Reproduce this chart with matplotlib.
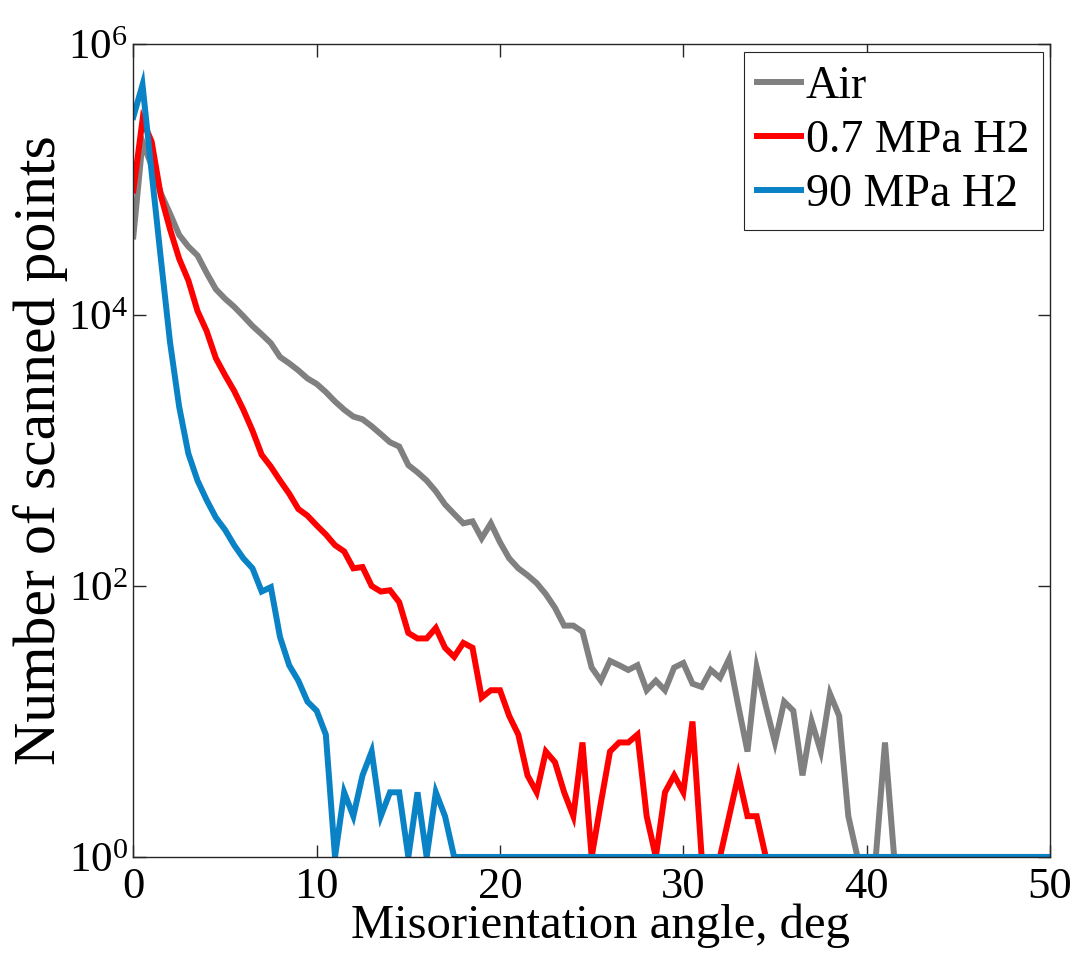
import numpy as np
import matplotlib
matplotlib.use("Agg")
import matplotlib.pyplot as plt
from matplotlib import ticker

plt.rcParams['font.family'] = ['Liberation Serif', 'DejaVu Serif']
plt.rcParams['mathtext.fontset'] = 'custom'
plt.rcParams['mathtext.rm'] = 'Liberation Serif'
plt.rcParams['mathtext.it'] = 'Liberation Serif:italic'

# Misorientation angle (deg), 0.5 deg bins
angle = np.arange(0, 50.01, 0.5)

counts_air = [
    38000, 190000, 126000, 79000, 56000, 39000, 32000, 27500, 20400, 15500,
    13200, 11500, 9800, 8300, 7200, 6200, 4900, 4400, 3900, 3400,
    3100, 2700, 2300, 2000, 1780, 1700, 1510, 1320, 1150, 1070,
    780, 690, 600, 500, 400, 340, 290, 300, 225, 290,
    210, 160, 135, 120, 105, 87, 69, 51, 51, 46,
    25, 20, 28, 26, 24, 26, 17, 20, 17, 25,
    27, 19, 18, 24, 21, 29, 13, 6, 25, 13,
    7, 14, 12, 4, 10, 6, 16, 11, 2, 1,
    1, 1, 7, 1, 1, 1, 1, 1, 1, 1,
    1, 1, 1, 1, 1, 1, 1, 1, 1, 1, 1]

counts_07MPa = [
    83000, 275000, 190000, 76000, 43000, 26000, 18000, 10700, 7600, 4800,
    3600, 2750, 2000, 1400, 930, 760, 600, 480, 370, 330,
    280, 240, 200, 180, 135, 138, 100, 91, 93, 76,
    45, 41, 41, 49, 35, 30, 38, 35, 15, 17,
    17, 11, 8, 4, 3, 6, 5, 3, 2, 7,
    1, 2.5, 6, 7, 7, 8, 2, 1, 3, 4,
    3, 10, 1, 1, 1, 2, 4, 2, 2, 1,
    1, 1, 1, 1, 1, 1, 1, 1, 1, 1,
    1, 1, 1, 1, 1, 1, 1, 1, 1, 1,
    1, 1, 1, 1, 1, 1, 1, 1, 1, 1, 1]

counts_90MPa = [
    290000, 500000, 112000, 26000, 6300, 2100, 950, 600, 430, 320,
    260, 200, 160, 135, 91, 98, 42, 26, 20, 14,
    12, 8, 1, 3, 2, 4, 6, 2, 3, 3,
    1, 3, 1, 3, 2, 1, 1, 1, 1, 1,
    1, 1, 1, 1, 1, 1, 1, 1, 1, 1,
    1, 1, 1, 1, 1, 1, 1, 1, 1, 1,
    1, 1, 1, 1, 1, 1, 1, 1, 1, 1,
    1, 1, 1, 1, 1, 1, 1, 1, 1, 1,
    1, 1, 1, 1, 1, 1, 1, 1, 1, 1,
    1, 1, 1, 1, 1, 1, 1, 1, 1, 1, 1]

series_labels = ['Air', '0.7 MPa H2', '90 MPa H2']
series_colors = ['#808080', '#FF0000', '#0A82C6']

x_ticks = [0, 10, 20, 30, 40, 50]
y_ticks = [1e0, 1e2, 1e4, 1e6]
y_ticklabels = [r'$\mathrm{10^{0}}$', r'$\mathrm{10^{2}}$', r'$\mathrm{10^{4}}$', r'$\mathrm{10^{6}}$']

fig = plt.figure(figsize=(10.78, 9.59), dpi=100)
ax = fig.add_axes([0.1237, 0.1064, 0.8503, 0.8477])

for data, lab, col in zip([counts_air, counts_07MPa, counts_90MPa], series_labels, series_colors):
    ax.plot(angle, data, color=col, lw=4.3, label=lab, solid_joinstyle='miter')

ax.set_yscale('log')
ax.set_xlim(0, 50)
ax.set_ylim(1, 1e6)
ax.set_xticks(x_ticks)
ax.set_yticks(y_ticks)
ax.set_yticklabels(y_ticklabels)
ax.yaxis.set_minor_locator(ticker.NullLocator())
ax.xaxis.set_minor_locator(ticker.NullLocator())

axis_col = '#262626'
for s in ax.spines.values():
    s.set_color(axis_col)
    s.set_linewidth(1.0)
ax.tick_params(axis='both', which='major', direction='in', length=9, width=1.0,
               top=True, right=True, color=axis_col, labelsize=32)
ax.tick_params(axis='x', pad=7)
ax.tick_params(axis='y', pad=4, labelsize=31)

ax.set_xlabel('Misorientation angle, deg', fontsize=35)
ax.xaxis.set_label_coords(0.51, -0.057)
ax.set_ylabel('Number of scanned points', fontsize=43, labelpad=0)

leg = ax.legend(loc='upper right', bbox_to_anchor=(0.992, 0.990), borderaxespad=0,
                fontsize=33, handlelength=0.95, handletextpad=0.1, labelspacing=0.25,
                borderpad=0.3, fancybox=False, framealpha=1, edgecolor='#262626')
leg.get_frame().set_linewidth(0.8)

fig.savefig('out.png', dpi=100)
